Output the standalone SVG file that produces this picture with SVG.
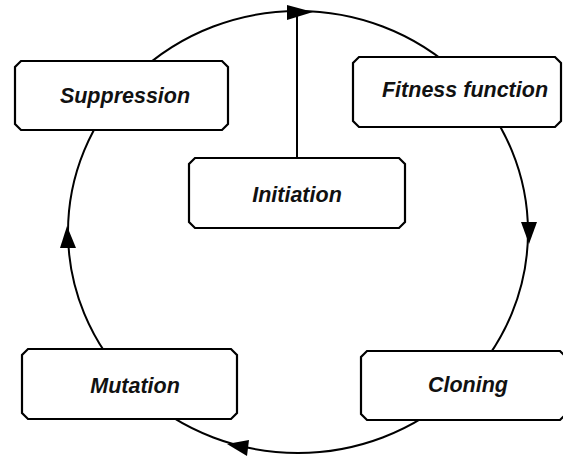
<svg xmlns="http://www.w3.org/2000/svg" width="563" height="458" viewBox="0 0 563 458">
<style>
.box{fill:#fff;stroke:#000;stroke-width:2.2}
.lbl{font-family:"Liberation Sans",Arial,sans-serif;font-weight:bold;font-style:italic;font-size:21.5px;fill:#111;text-anchor:middle}
.ln{fill:none;stroke:#000;stroke-width:2}
.ah{fill:#000;stroke:none}
</style>
<rect width="563" height="458" fill="#fff"/>
<g id="connectors">
<ellipse class="ln" cx="298" cy="232" rx="230" ry="221"/>
<line class="ln" x1="297" y1="12" x2="297" y2="159"/>
<polygon class="ah" points="313,12 287,5 287,20"/>
<polygon class="ah" points="529,244 521,222 537,222"/>
<polygon class="ah" points="67,226 60,248 76,248"/>
<polygon class="ah" points="227,444 249,440 247,456"/>
</g>
<g id="suppression">
<path class="box" d="M21,61 H222 L228,67 V124 L222,130 H21 L15,124 V67 Z"/>
<text class="lbl" x="125" y="103">Suppression</text>
</g>
<g id="fitness">
<path class="box" d="M359,57 H555 L561,63 V121 L555,127 H359 L353,121 V63 Z"/>
<text class="lbl" x="465" y="97">Fitness function</text>
</g>
<g id="initiation">
<path class="box" d="M195,158 H399 L405,164 V222 L399,228 H195 L189,222 V164 Z"/>
<text class="lbl" x="297" y="202">Initiation</text>
</g>
<g id="mutation">
<path class="box" d="M28,349 H231 L237,355 V413 L231,419 H28 L22,413 V355 Z"/>
<text class="lbl" x="135" y="393">Mutation</text>
</g>
<g id="cloning">
<path class="box" d="M367,351 H560 L566,357 V414 L560,420 H367 L361,414 V357 Z"/>
<text class="lbl" x="468" y="392">Cloning</text>
</g>
</svg>
